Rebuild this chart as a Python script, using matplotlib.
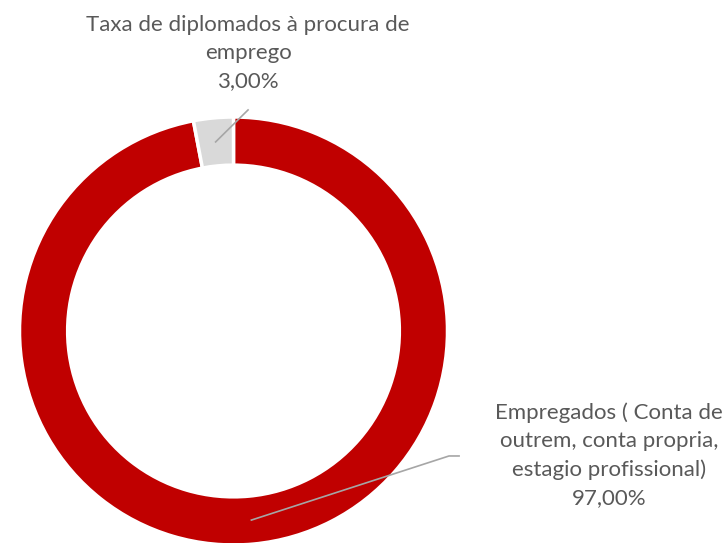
import numpy as np
import matplotlib
matplotlib.use("Agg")
import matplotlib.pyplot as plt

labels = ["Empregados ( Conta de\noutrem, conta propria,\nestagio profissional)",
          "Taxa de diplomados à procura de\nemprego"]
values = [97.0, 3.0]
colors = ["#C00000", "#D9D9D9"]

plt.rcParams['font.family'] = ['Lato', 'DejaVu Sans']

fig = plt.figure(figsize=(7.28, 5.43), dpi=100)
W, H = 728, 543
cx, cy, r = 233.5, 212, 214
ax = fig.add_axes([(cx - r) / W, (cy - r) / H, 2 * r / W, 2 * r / H])

ring = 0.225
wedges, _ = ax.pie(values, colors=colors, startangle=90, counterclock=False, radius=1,
                   wedgeprops={'width': ring, 'edgecolor': 'white', 'linewidth': 2.5})
for w in wedges:
    w.set_clip_on(False)
ax.set_xlim(-1, 1)
ax.set_ylim(-1, 1)
ax.set_aspect('equal')
ax.axis('off')

# leader lines from the middle of each ring segment
mid_r = 1 - ring / 2
line_color = "#A6A6A6"
text_color = "#595959"

# grey slice (3%)
ang = np.deg2rad((wedges[1].theta1 + wedges[1].theta2) / 2)
x0, y0 = mid_r * np.cos(ang), mid_r * np.sin(ang)
ax.plot([x0, 0.068], [y0, 1.033], color=line_color, lw=1.2, clip_on=False)
ax.text(0.068, 1.30, f"{labels[1]}\n{values[1]:.2f}%".replace(".", ","), ha='center', va='center',
        fontsize=16, color=text_color, linespacing=1.5, clip_on=False)

# red slice (97%)
ang = np.deg2rad((wedges[0].theta1 + wedges[0].theta2) / 2)
x0, y0 = mid_r * np.cos(ang), mid_r * np.sin(ang)
ax.plot([x0, 1.007, 1.054], [y0, -0.584, -0.584], color=line_color, lw=1.2, clip_on=False)
ax.text(1.755, -0.58, f"{labels[0]}\n{values[0]:.2f}%".replace(".", ","), ha='center', va='center',
        fontsize=16, color=text_color, linespacing=1.5, clip_on=False)

fig.savefig("out.png", dpi=100)
